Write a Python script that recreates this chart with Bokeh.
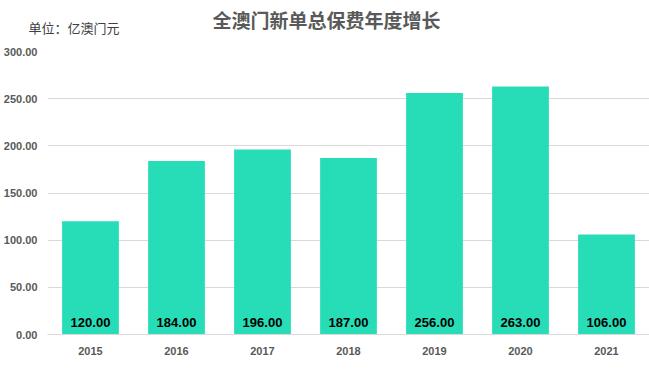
from bokeh.plotting import figure
from bokeh.models import ColumnDataSource, LabelSet, Label, NumeralTickFormatter, FixedTicker, Range1d
from bokeh.core.properties import value
from bokeh.embed import file_html
from bokeh.resources import INLINE

years = ["2015", "2016", "2017", "2018", "2019", "2020", "2021"]
premiums = [120, 184, 196, 187, 256, 263, 106]
labels = ["%.2f" % v for v in premiums]
y_ticks = [0, 50, 100, 150, 200, 250, 300]
title_text = "全澳门新单总保费年度增长"
unit_text = "单位：亿澳门元"

src = ColumnDataSource(dict(x=years, top=premiums, lab=labels, base=[0] * len(years)))

p = figure(x_range=years, y_range=Range1d(0, 300), width=649, height=388,
           output_backend="svg", toolbar_location=None,
           min_border_left=46, min_border_right=0, min_border_top=51, min_border_bottom=54)
p.outline_line_color = None
p.background_fill_color = "white"
p.border_fill_color = "white"

p.vbar(x="x", top="top", width=0.66, source=src, fill_color="#26DDB8", line_color=None)

ls = LabelSet(x="x", y="base", text="lab", source=src, y_offset=12,
              text_align="center", text_baseline="middle",
              text_font=value("Liberation Sans"), text_font_size="13px", text_font_style="bold",
              text_color="#000000")
p.add_layout(ls)

p.yaxis.ticker = FixedTicker(ticks=y_ticks)
p.yaxis.formatter = NumeralTickFormatter(format="0.00")
p.yaxis.axis_line_color = None
p.yaxis.major_tick_line_color = None
p.yaxis.minor_tick_line_color = None
p.yaxis.major_tick_out = 0
p.yaxis.minor_tick_out = 0
p.yaxis.major_label_text_font = "Liberation Sans"
p.yaxis.major_label_text_font_size = "11px"
p.yaxis.major_label_text_font_style = "bold"
p.yaxis.major_label_text_color = "#595959"
p.yaxis.major_label_standoff = 10

p.xaxis.axis_line_color = "#d9d9d9"
p.xaxis.major_tick_line_color = None
p.xaxis.minor_tick_line_color = None
p.xaxis.major_tick_out = 0
p.xaxis.minor_tick_out = 0
p.xaxis.major_label_text_font = "Liberation Sans"
p.xaxis.major_label_text_font_size = "11px"
p.xaxis.major_label_text_font_style = "bold"
p.xaxis.major_label_text_color = "#595959"
p.xaxis.major_label_standoff = 12

p.xgrid.grid_line_color = None
p.ygrid.grid_line_color = "#d9d9d9"
p.ygrid.ticker = FixedTicker(ticks=y_ticks)

# Labels placed in the "above" side panel (stacked slots, relative to frame left)
u = Label(x=-19, y=24, x_units="screen", y_units="screen", text=unit_text,
          text_font="Noto Sans CJK SC", text_font_size="13px",
          text_color="#404040", text_align="left", text_baseline="middle")
t = Label(x=279, y=13, x_units="screen", y_units="screen", text=title_text,
          text_font="Noto Sans CJK SC", text_font_size="19px", text_font_style="bold",
          text_color="#595959", text_align="center", text_baseline="middle")
p.add_layout(u, "above")
p.add_layout(t, "above")

open("out.html", "w").write(file_html(p, INLINE))
